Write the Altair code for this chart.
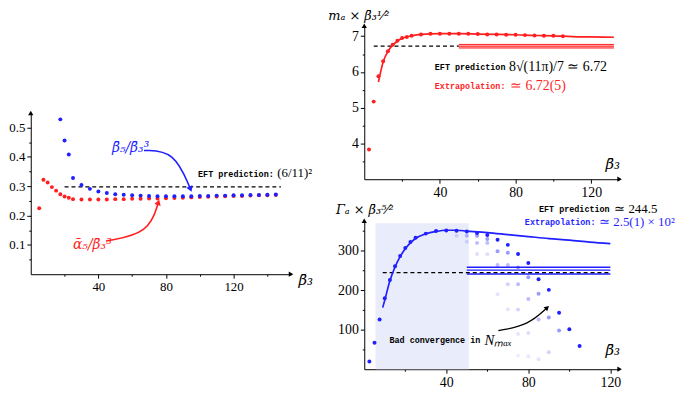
import altair as alt
import pandas as pd

RED = "#ff1f1f"
BLUE = "#1f1fff"
SERIF = "Liberation Serif"
MATH = "DejaVu Serif"
MONO = "Liberation Mono"

# ---------------- Left panel data ----------------
left_red_x = [5, 7.5, 10, 12.5, 15, 17.5, 20, 22.5, 25, 30, 35, 40, 45, 50, 55, 60, 65, 70, 75, 80,
              85, 90, 95, 100, 105, 110, 115, 120, 125, 130, 135, 140, 145]
left_red_y = [0.225, 0.322, 0.313, 0.297, 0.285, 0.273, 0.265, 0.261, 0.256,
              0.255, 0.255, 0.255, 0.255, 0.256, 0.256, 0.257, 0.257, 0.258, 0.258,
              0.259, 0.260, 0.261, 0.262, 0.263, 0.264, 0.265, 0.266, 0.267, 0.267,
              0.268, 0.269, 0.269, 0.270]
left_blue_x = [17.5, 20, 22.5, 25, 30, 35, 40, 45, 50, 55, 60, 65, 70, 75, 80, 85, 90, 95, 100,
               105, 110, 115, 120, 125, 130, 135, 140, 145]
left_blue_y = [0.528, 0.456, 0.408, 0.328,
               0.304, 0.291, 0.282, 0.277, 0.273, 0.271, 0.269, 0.268, 0.267, 0.266,
               0.266, 0.266, 0.266, 0.266, 0.267, 0.267, 0.268, 0.268, 0.269, 0.269,
               0.270, 0.270, 0.271, 0.272]
left_eft = 0.2975
left_eft_x = [20, 148]
blue_arrow_x = [67, 85, 94.5]
blue_arrow_y = [0.422, 0.42, 0.29]
red_arrow_x = [44.5, 70, 75.5]
red_arrow_y = [0.113, 0.14, 0.245]
left_xticks = [20, 40, 60, 80, 100, 120, 140]
left_yticks = [0.05, 0.1, 0.15, 0.2, 0.25, 0.3, 0.35, 0.4, 0.45, 0.5]

# ---------------- Top-right panel data ----------------
tr_x = [2.5, 5, 7.5, 10, 12.5, 15, 17.5, 20, 22.5, 25, 30, 35, 40, 45, 50, 55, 60, 65, 70, 75,
        80, 85, 90, 95, 100, 105]
tr_y = [3.83, 5.17, 5.88, 6.30, 6.58, 6.76, 6.87, 6.95, 6.98, 7.01,
        7.05, 7.07, 7.07, 7.07, 7.07, 7.07, 7.06, 7.05, 7.05, 7.04,
        7.04, 7.03, 7.02, 7.01, 7.01, 7.00]
tr_fit_x = [7.5, 10, 12.5, 15, 17.5, 20, 25, 30, 40, 50, 60, 70, 80, 90, 100, 110, 120, 132]
tr_fit_y = [5.72, 6.28, 6.57, 6.75, 6.86, 6.94, 7.01, 7.05, 7.07, 7.07, 7.06, 7.05, 7.04, 7.02,
            7.01, 6.99, 6.98, 6.97]
tr_eft = 6.72
tr_eft_x = [5, 50]
tr_band_x = [50, 132]
tr_band_lines = [6.67, 6.72, 6.77]
tr_band_lo, tr_band_hi = 6.665, 6.775
tr_xticks = [20, 40, 60, 80, 100, 120]
tr_yticks = [3.5, 4, 4.5, 5, 5.5, 6, 6.5, 7]

# ---------------- Bottom-right panel data ----------------
br_x = [2.5, 5, 7.5, 10, 12.5, 15, 17.5, 20, 22.5, 25, 30, 35, 40, 45, 50, 55, 60, 65, 70, 75,
        80, 85, 90, 95, 100, 105]
br_y = [19.5, 67, 126, 180, 226, 261, 287, 307, 322, 333, 343.5, 350, 351.5, 351, 349, 345, 340,
        328, 315, 292, 269, 228, 201, 143, 101, 59]
faint_x = [45, 50, 50, 55, 55, 55, 60, 60, 60, 65, 65, 65, 70, 70, 70, 70, 75, 75, 75, 75, 75,
           80, 80, 80, 80, 85, 85, 85, 90, 90, 95]
faint_y = [338, 338, 323, 338, 320, 292, 330, 320, 291, 299, 264, 190, 295, 264, 215, 152,
           258, 215, 151, 89, 34, 233, 178, 92, 33, 191, 126, 25, 131, 43, 98]
faint_op = [0.15, 0.3, 0.15, 0.45, 0.3, 0.15, 0.45, 0.3, 0.15, 0.45, 0.3, 0.12, 0.45, 0.3, 0.2,
            0.12, 0.45, 0.3, 0.2, 0.12, 0.08, 0.45, 0.3, 0.15, 0.1, 0.45, 0.3, 0.12, 0.45, 0.2,
            0.45]
br_fit_x = [9, 10, 12.5, 15, 17.5, 20, 22.5, 25, 30, 35, 40, 45, 50, 60, 70, 80, 90, 100, 110, 120]
br_fit_y = [156, 175, 224, 259, 285, 305, 320, 331, 343, 349, 352, 352, 350, 346, 341, 336, 331,
            327, 322, 318]
br_eft = 244.5
br_eft_x = [9, 120]
br_band_x = [50, 120]
br_band_lines = [241, 251, 258]
br_shade_x = [5.5, 51]
br_shade_y = [0, 370]
black_arrow_x = [65.4, 80, 89.2]
black_arrow_y = [97.6, 112, 156]
br_xticks = [20, 40, 60, 80, 100, 120]
br_yticks = [50, 100, 150, 200, 250, 300, 350]

# ---------------- sizes ----------------
L_W, L_H, L_PLOT = 263, 251, 163
TR_W, TR_H = 258, 155
BR_W, BR_H = 258, 150


def major_minor(test, fmt_expr):
    return dict(labelExpr=f"({test}) ? {fmt_expr} : ''",
                tickSize={"condition": {"test": test, "value": 4}, "value": 2})


X_MAJOR = "datum.value % 40 === 0"


def xaxis(title, ticks, **kw):
    return alt.Axis(values=ticks, title=title, titleAngle=0, titleFont=MATH,
                    titleFontSize=15, titleFontStyle="italic", titleFontWeight="normal",
                    titleColor="black", labelFlush=False, labelFont=SERIF,
                    **major_minor(X_MAJOR, "datum.label"), **kw)


def yaxis(values, test, fmt_expr, title=None, size=13, **kw):
    args = dict(values=values, labelFontSize=size, labelFont=SERIF)
    args.update(major_minor(test, fmt_expr))
    if title is not None:
        args.update(title=title, titleAngle=0, titleFont=MATH, titleFontSize=13,
                    titleFontStyle="italic", titleFontWeight="normal", titleColor="black",
                    titleAlign="center", titleBaseline="bottom")
    else:
        args.update(title=None)
    args.update(kw)
    return alt.Axis(**args)


def build(xs, ys, xax, yax):
    X = alt.X("x:Q", scale=xs, axis=xax)
    Y = alt.Y("y:Q", scale=ys, axis=yax)

    def pts(d, color, size=16, opacity_field=False):
        enc = dict(x=X, y=Y)
        if opacity_field:
            enc["opacity"] = alt.Opacity("op:Q", scale=None)
            return alt.Chart(d).mark_circle(size=size, color=color).encode(**enc)
        return alt.Chart(d).mark_circle(size=size, color=color, opacity=1).encode(**enc)

    def line(d, color, width, dash=None, interp="linear", detail=None):
        kw = dict(color=color, strokeWidth=width, interpolate=interp)
        if dash:
            kw["strokeDash"] = dash
        enc = dict(x=X, y=Y)
        if detail:
            enc["detail"] = alt.Detail(detail + ":N")
        return alt.Chart(d).mark_line(**kw).encode(**enc)

    def text(d, color, font, size, weight="normal", style="normal", dx=0, align="left"):
        return alt.Chart(d).mark_text(color=color, font=font, fontSize=size, fontWeight=weight,
                                      fontStyle=style, dx=dx, align=align,
                                      baseline="middle").encode(x=X, y=Y, text="t:N")

    def head(d, shape, color, size, angle=0):
        return alt.Chart(d).mark_point(shape=shape, filled=True, color=color, size=size,
                                       opacity=1, angle=angle).encode(x=X, y=Y)

    def rect(d, color, opacity):
        return alt.Chart(d).mark_rect(color=color, opacity=opacity).encode(
            x=X, x2=alt.X2("x2"), y=Y, y2=alt.Y2("y2"))

    return pts, line, text, head, rect


# ================= Left panel =================
lxs = alt.Scale(domain=[0, 154], nice=False, zero=False)
lys = alt.Scale(domain=[0, 0.55], range=[L_H, L_H - L_PLOT], nice=False, zero=False)
pts, line, text, head, rect = build(
    lxs, lys,
    xaxis("β̄₃", left_xticks, titleX=L_W + 7, titleY=5, titleAlign="left",
          titleBaseline="middle"),
    yaxis(left_yticks, "abs(datum.value * 10 - round(datum.value * 10)) < 0.01",
          "datum.label", format=".1f"))

left = alt.layer(
    line(pd.DataFrame({"x": left_eft_x, "y": [left_eft] * 2}), "black", 1.2, dash=[4, 3]),
    pts(pd.DataFrame({"x": left_red_x, "y": left_red_y}), RED),
    pts(pd.DataFrame({"x": left_blue_x, "y": left_blue_y}), BLUE),
    line(pd.DataFrame({"x": blue_arrow_x, "y": blue_arrow_y}), BLUE, 1.6, interp="basis"),
    head(pd.DataFrame({"x": [blue_arrow_x[-1]], "y": [blue_arrow_y[-1]]}), "triangle-down",
         BLUE, 45, angle=337),
    line(pd.DataFrame({"x": red_arrow_x, "y": red_arrow_y}), RED, 1.6, interp="basis"),
    head(pd.DataFrame({"x": [red_arrow_x[-1]], "y": [red_arrow_y[-1]]}), "triangle-up",
         RED, 45, angle=18),
    text(pd.DataFrame({"x": [99], "y": [0.343], "t": ["EFT prediction:"]}), "black", MONO, 8.5,
         weight="bold"),
    text(pd.DataFrame({"x": [99], "y": [0.345], "t": ["(6/11)²"]}), "black", SERIF, 13, dx=80),
    text(pd.DataFrame({"x": [48], "y": [0.43], "t": ["β̄₅/β̄₃³"]}), BLUE, MATH, 14,
         style="italic"),
    text(pd.DataFrame({"x": [25], "y": [0.10], "t": ["ᾱ₅/β̄₃³"]}), RED, MATH, 14,
         style="italic"),
    head(pd.DataFrame({"x": [154], "y": [0]}), "triangle-right", "black", 28),
    head(pd.DataFrame({"x": [0], "y": [0.55]}), "triangle-up", "black", 28),
).properties(width=L_W, height=L_H)

# ================= Top-right panel =================
txs = alt.Scale(domain=[0, 135], nice=False, zero=False)
tys = alt.Scale(domain=[3, 7.29], nice=False, zero=False)
pts, line, text, head, rect = build(
    txs, tys,
    xaxis("β̄₃", tr_xticks, titleX=TR_W, titleY=-8, titleAlign="right",
          titleBaseline="bottom", labelFontSize=14),
    yaxis(tr_yticks, "abs(datum.value - round(datum.value)) < 0.01",
          "format(datum.value, '.0f')", title="mₐ × β̄₃¹⁄²", size=14,
          titleX=-6, titleY=-3))

band_rows = [{"x": tr_band_x[0], "y": v, "k": str(i)} for i, v in enumerate(tr_band_lines)] + \
            [{"x": tr_band_x[1], "y": v, "k": str(i)} for i, v in enumerate(tr_band_lines)]

top = alt.layer(
    rect(pd.DataFrame({"x": [tr_band_x[0]], "x2": [tr_band_x[1]], "y": [tr_band_lo],
                       "y2": [tr_band_hi]}), RED, 0.25),
    line(pd.DataFrame(band_rows), RED, 1, detail="k"),
    line(pd.DataFrame({"x": tr_eft_x, "y": [tr_eft] * 2}), "black", 1.2, dash=[4, 3]),
    line(pd.DataFrame({"x": tr_fit_x, "y": tr_fit_y}), RED, 1.7, interp="monotone"),
    pts(pd.DataFrame({"x": tr_x, "y": tr_y}), RED),
    text(pd.DataFrame({"x": [37.3], "y": [6.13], "t": ["EFT prediction"]}), "black", MONO, 8.5,
         weight="bold"),
    text(pd.DataFrame({"x": [37.3], "y": [6.13], "t": ["8√(11π)/7 ≃ 6.72"]}), "black", SERIF,
         14, dx=75),
    text(pd.DataFrame({"x": [37.3], "y": [5.61], "t": ["Extrapolation:"]}), RED, MONO, 8.5,
         weight="bold"),
    text(pd.DataFrame({"x": [37.3], "y": [5.61], "t": ["≃ 6.72(5)"]}), RED, SERIF, 14, dx=76),
    head(pd.DataFrame({"x": [135], "y": [3]}), "triangle-right", "black", 28),
    head(pd.DataFrame({"x": [0], "y": [7.29]}), "triangle-up", "black", 28),
).properties(width=TR_W, height=TR_H)

# ================= Bottom-right panel =================
bxs = alt.Scale(domain=[0, 124.5], nice=False, zero=False)
bys = alt.Scale(domain=[0, 376], nice=False, zero=False)
pts, line, text, head, rect = build(
    bxs, bys,
    xaxis("β̄₃", br_xticks, titleX=BR_W, titleY=-12, titleAlign="right",
          titleBaseline="bottom", labelFontSize=14),
    yaxis(br_yticks, "datum.value % 100 === 0", "datum.label", title="Γₐ × β̄₃⁵⁄²", size=14,
          format="d", titleX=0, titleY=-4))

bband_rows = [{"x": br_band_x[0], "y": v, "k": str(i)} for i, v in enumerate(br_band_lines)] + \
             [{"x": br_band_x[1], "y": v, "k": str(i)} for i, v in enumerate(br_band_lines)]

bottom = alt.layer(
    rect(pd.DataFrame({"x": [br_shade_x[0]], "x2": [br_shade_x[1]], "y": [br_shade_y[0]],
                       "y2": [br_shade_y[1]]}), "#e9ecfb", 1),
    pts(pd.DataFrame({"x": faint_x, "y": faint_y, "op": faint_op}), BLUE, opacity_field=True),
    line(pd.DataFrame(bband_rows), BLUE, 1.5, detail="k"),
    line(pd.DataFrame({"x": br_eft_x, "y": [br_eft] * 2}), "black", 1.2, dash=[4, 3]),
    pts(pd.DataFrame({"x": br_x, "y": br_y}), BLUE),
    line(pd.DataFrame({"x": br_fit_x, "y": br_fit_y}), BLUE, 1.7, interp="monotone"),
    text(pd.DataFrame({"x": [85.2], "y": [405], "t": ["EFT prediction"]}), "black", MONO, 8.5,
         weight="bold"),
    text(pd.DataFrame({"x": [85.2], "y": [405], "t": ["≃ 244.5"]}), "black", SERIF, 13, dx=76),
    text(pd.DataFrame({"x": [78.3], "y": [373], "t": ["Extrapolation:"]}), BLUE, MONO, 8.5,
         weight="bold"),
    text(pd.DataFrame({"x": [78.3], "y": [373], "t": ["≃ 2.5(1) × 10²"]}), BLUE, SERIF, 13,
         dx=75),
    text(pd.DataFrame({"x": [12.3], "y": [75], "t": ["Bad convergence in"]}), "black", MONO,
         8.5, weight="bold"),
    text(pd.DataFrame({"x": [12.3], "y": [75], "t": ["Nₘₐₓ"]}), "black", SERIF, 15, dx=96,
         style="italic"),
    line(pd.DataFrame({"x": black_arrow_x, "y": black_arrow_y}), "black", 1.3, interp="basis"),
    head(pd.DataFrame({"x": [black_arrow_x[-1]], "y": [black_arrow_y[-1]]}), "triangle-right",
         "black", 30, angle=318),
    head(pd.DataFrame({"x": [124.5], "y": [0]}), "triangle-right", "black", 28),
    head(pd.DataFrame({"x": [0], "y": [376]}), "triangle-up", "black", 28),
).properties(width=BR_W, height=BR_H)

right = alt.vconcat(top, bottom, spacing=4)
chart = alt.hconcat(left, right, spacing=15, padding=0).configure_view(
    stroke=None
).configure_axis(
    grid=False, domainColor="black", domainWidth=1, tickColor="black",
    labelColor="black", labelFont=SERIF, labelFontSize=13, labelPadding=2
)

chart.save("out.html", embed_options={"renderer": "svg", "actions": False})
